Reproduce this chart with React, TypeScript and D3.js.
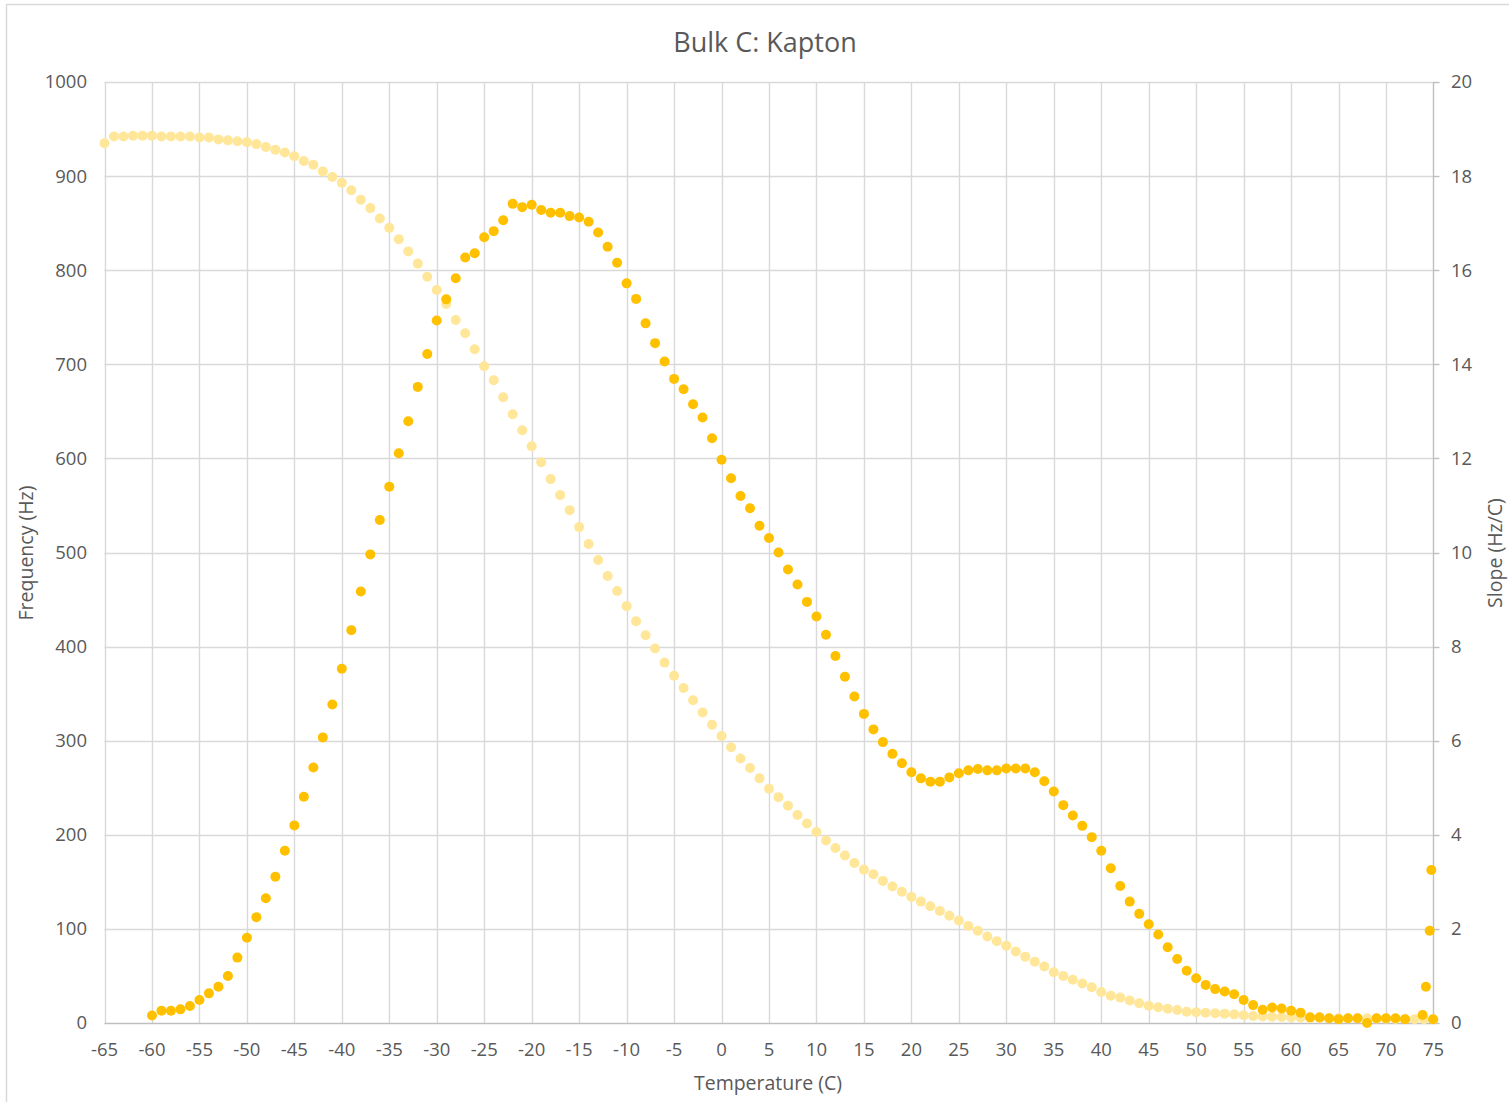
import React, { useEffect, useRef } from 'react';
import * as d3 from 'd3';

// light series: frequency (left axis)
const freqTemps = [
  -65, -64, -63, -62, -61, -60, -59, -58, -57, -56, -55, -54, -53, -52, -51, -50, -49, -48, -47, -46,
  -45, -44, -43, -42, -41, -40, -39, -38, -37, -36, -35, -34, -33, -32, -31, -30, -29, -28, -27, -26,
  -25, -24, -23, -22, -21, -20, -19, -18, -17, -16, -15, -14, -13, -12, -11, -10, -9, -8, -7, -6,
  -5, -4, -3, -2, -1, 0, 1, 2, 3, 4, 5, 6, 7, 8, 9, 10, 11, 12, 13, 14,
  15, 16, 17, 18, 19, 20, 21, 22, 23, 24, 25, 26, 27, 28, 29, 30, 31, 32, 33, 34,
  35, 36, 37, 38, 39, 40, 41, 42, 43, 44, 45, 46, 47, 48, 49, 50, 51, 52, 53, 54,
  55, 56, 57, 58, 59, 60, 61, 62, 63, 64, 65, 66, 67, 68, 69, 70, 71, 72, 73, 74, 75
];
const frequency = [
  935, 942, 942, 943, 943, 943, 942, 942, 942, 942, 941, 941, 939, 938, 937, 936, 934, 931, 928, 925,
  921, 916, 912, 905, 899, 893, 885, 875, 866, 855, 845, 833, 820, 807, 793, 779, 764, 747, 733, 716,
  698, 683, 665, 647, 630, 613, 596, 578, 561, 545, 527, 509, 492, 475, 459, 443, 427, 412, 398, 383,
  369, 356, 343, 330, 317, 305, 293, 281, 271, 260, 249, 240, 231, 221, 212, 203, 194, 186, 178, 170,
  163, 158, 151, 145, 139.5, 134, 129, 124, 119, 114, 109, 103, 98, 92, 87, 82, 76, 70.5, 65, 60,
  54, 50, 46, 42, 38, 33, 29, 27, 24, 21, 18.4, 16.7, 15.2, 13.8, 12, 11.4, 10.9, 10.3, 9.9, 9.2,
  8.2, 7.4, 7, 6.7, 6.3, 6, 5.8, 5.5, 5.3, 5.1, 5, 5, 5, 5, 4.8, 4.5, 4.3, 4.2, 4, 3.9, 3.8
];

// dark series: slope (right axis)
const slopeTemps = [
  -60, -59, -58, -57, -56, -55, -54, -53, -52, -51, -50, -49, -48, -47, -46, -45, -44, -43, -42, -41,
  -40, -39, -38, -37, -36, -35, -34, -33, -32, -31, -30, -29, -28, -27, -26, -25, -24, -23, -22, -21,
  -20, -19, -18, -17, -16, -15, -14, -13, -12, -11, -10, -9, -8, -7, -6, -5, -4, -3, -2, -1,
  0, 1, 2, 3, 4, 5, 6, 7, 8, 9, 10, 11, 12, 13, 14, 15, 16, 17, 18, 19,
  20, 21, 22, 23, 24, 25, 26, 27, 28, 29, 30, 31, 32, 33, 34, 35, 36, 37, 38, 39,
  40, 41, 42, 43, 44, 45, 46, 47, 48, 49, 50, 51, 52, 53, 54, 55, 56, 57, 58, 59,
  60, 61, 62, 63, 64, 65, 66, 67, 68, 69, 70, 71, 72, 73.85, 74.2, 74.6, 74.77, 74.95
];
const slope = [
  0.16, 0.26, 0.26, 0.29, 0.36, 0.49, 0.63, 0.77, 1.0, 1.39, 1.81, 2.25, 2.65, 3.11, 3.66, 4.2, 4.81, 5.43, 6.07, 6.77,
  7.53, 8.35, 9.17, 9.96, 10.69, 11.4, 12.11, 12.79, 13.52, 14.22, 14.93, 15.38, 15.83, 16.27, 16.36, 16.7, 16.83, 17.06, 17.41, 17.34,
  17.39, 17.28, 17.22, 17.22, 17.15, 17.12, 17.03, 16.8, 16.5, 16.16, 15.72, 15.39, 14.87, 14.45, 14.06, 13.69, 13.47, 13.15, 12.87, 12.43,
  11.97, 11.58, 11.2, 10.94, 10.57, 10.31, 10.0, 9.64, 9.32, 8.95, 8.64, 8.25, 7.8, 7.36, 6.94, 6.57, 6.24, 5.97, 5.72, 5.52,
  5.33, 5.2, 5.13, 5.13, 5.22, 5.31, 5.37, 5.4, 5.37, 5.37, 5.41, 5.41, 5.41, 5.33, 5.14, 4.92, 4.63, 4.41, 4.19, 3.95,
  3.66, 3.29, 2.91, 2.58, 2.32, 2.1, 1.88, 1.61, 1.36, 1.11, 0.95, 0.81, 0.72, 0.67, 0.61, 0.49, 0.38, 0.28, 0.33, 0.31,
  0.26, 0.22, 0.12, 0.12, 0.1, 0.08, 0.1, 0.1, 0.0, 0.1, 0.1, 0.1, 0.08, 0.17, 0.77, 1.96, 3.25, 0.08
];

const tempTicks = [-65, -60, -55, -50, -45, -40, -35, -30, -25, -20, -15, -10, -5, 0, 5, 10, 15, 20, 25, 30, 35, 40, 45, 50, 55, 60, 65, 70, 75];
const freqTicks = [0, 100, 200, 300, 400, 500, 600, 700, 800, 900, 1000];
const slopeTicks = [0, 2, 4, 6, 8, 10, 12, 14, 16, 18, 20];

const FONT = '"Open Sans", sans-serif';
const TEXT = '#595959';
const GRID = '#d9d9d9';

const App = () => {
  const svgRef = useRef(null);

  useEffect(() => {
    const width = 1509, height = 1102;
    const plot = { left: 104.5, right: 1433.5, top: 82, bottom: 1023 };
    const svg = d3.select(svgRef.current).html('');

    const x = d3.scaleLinear().domain([-65, 75]).range([plot.left, plot.right]);
    const yL = d3.scaleLinear().domain([0, 1000]).range([plot.bottom, plot.top]);
    const yR = d3.scaleLinear().domain([0, 20]).range([plot.bottom, plot.top]);

    svg.append('rect')
      .attr('width', width).attr('height', height).attr('fill', '#fff');
    // chart area border (runs off the picture right & bottom)
    svg.append('rect')
      .attr('x', 6.5).attr('y', 4.5)
      .attr('width', width + 20).attr('height', height + 20)
      .attr('fill', 'none').attr('stroke', GRID).attr('stroke-width', 1.5);

    // gridlines
    svg.append('g').selectAll('line')
      .data(freqTicks.slice(1))
      .enter().append('line')
      .attr('x1', plot.left).attr('x2', plot.right)
      .attr('y1', d => Math.round(yL(d)) + 0.5).attr('y2', d => Math.round(yL(d)) + 0.5)
      .attr('stroke', GRID).attr('stroke-width', 1.4);
    svg.append('g').selectAll('line')
      .data(tempTicks.slice(0, -1))
      .enter().append('line')
      .attr('x1', d => Math.round(x(d)) + 0.5).attr('x2', d => Math.round(x(d)) + 0.5)
      .attr('y1', plot.top).attr('y2', plot.bottom)
      .attr('stroke', GRID).attr('stroke-width', 1.4);

    // bottom axis line
    svg.append('line')
      .attr('x1', plot.left).attr('x2', plot.right)
      .attr('y1', plot.bottom + 0.5).attr('y2', plot.bottom + 0.5)
      .attr('stroke', '#bfbfbf').attr('stroke-width', 1.4);
    // right axis with outward ticks
    const gR = svg.append('g').attr('transform', `translate(${plot.right},0)`);
    gR.append('line')
      .attr('x1', 0).attr('x2', 0).attr('y1', plot.top).attr('y2', plot.bottom)
      .attr('stroke', '#bfbfbf').attr('stroke-width', 1.4);
    gR.selectAll('.tk').data(slopeTicks).enter().append('line')
      .attr('x1', 0).attr('x2', 6)
      .attr('y1', d => Math.round(yR(d)) + 0.5).attr('y2', d => Math.round(yR(d)) + 0.5)
      .attr('stroke', '#bfbfbf').attr('stroke-width', 1.4);

    // tick labels
    svg.append('g').selectAll('text').data(freqTicks).enter().append('text')
      .attr('x', 87).attr('y', d => yL(d)).attr('dy', '0.35em')
      .attr('text-anchor', 'end')
      .style('font-family', FONT).style('font-size', '18.5px').attr('fill', TEXT)
      .text(d => d);
    svg.append('g').selectAll('text').data(slopeTicks).enter().append('text')
      .attr('x', 1451).attr('y', d => yR(d)).attr('dy', '0.35em')
      .style('font-family', FONT).style('font-size', '18.5px').attr('fill', TEXT)
      .text(d => d);
    svg.append('g').selectAll('text').data(tempTicks).enter().append('text')
      .attr('x', d => x(d)).attr('y', 1056)
      .attr('text-anchor', 'middle')
      .style('font-family', FONT).style('font-size', '18.5px').attr('fill', TEXT)
      .text(d => d);

    // titles
    svg.append('text')
      .attr('x', 765).attr('y', 52).attr('text-anchor', 'middle')
      .style('font-family', FONT).style('font-size', '27px').attr('fill', TEXT)
      .text('Bulk C: Kapton');
    svg.append('text')
      .attr('x', 768).attr('y', 1090).attr('text-anchor', 'middle')
      .style('font-family', FONT).style('font-size', '19.5px').attr('fill', TEXT)
      .text('Temperature (C)');
    svg.append('text')
      .attr('transform', 'translate(33,553) rotate(-90)').attr('text-anchor', 'middle')
      .style('font-family', FONT).style('font-size', '19.5px').attr('fill', TEXT)
      .text('Frequency (Hz)');
    svg.append('text')
      .attr('transform', 'translate(1502,553) rotate(-90)').attr('text-anchor', 'middle')
      .style('font-family', FONT).style('font-size', '19.5px').attr('fill', TEXT)
      .text('Slope (Hz/C)');

    // series
    svg.append('g').selectAll('circle')
      .data(freqTemps.map((t, i) => [t, frequency[i]]))
      .enter().append('circle')
      .attr('cx', d => x(d[0])).attr('cy', d => yL(d[1])).attr('r', 5)
      .attr('fill', '#ffe699');
    svg.append('g').selectAll('circle')
      .data(slopeTemps.map((t, i) => [t, slope[i]]))
      .enter().append('circle')
      .attr('cx', d => x(d[0])).attr('cy', d => yR(d[1])).attr('r', 5)
      .attr('fill', '#ffc000');
  }, []);

  return (
    <svg ref={svgRef} width={1509} height={1102}
      style={{ position: 'absolute', left: 0, top: 0, display: 'block' }} />
  );
};

export default App;
